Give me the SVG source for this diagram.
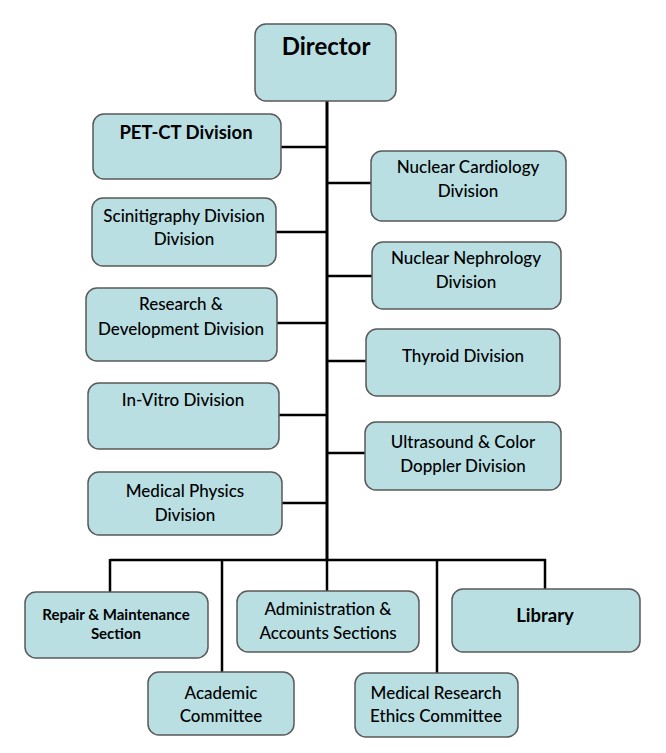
<svg xmlns="http://www.w3.org/2000/svg" width="666" height="753" viewBox="0 0 666 753">
<style>
.box{fill:#b9dfe3;stroke:#5a5a5a;stroke-width:1.5}
.t{font-family:Lato,"Open Sans","Liberation Sans",sans-serif;font-size:17px;font-weight:500;fill:#000;text-anchor:middle}
.b{font-weight:bold}
.ln{stroke:#000;stroke-width:2.5;fill:none}
</style>
<rect width="666" height="753" fill="#fff"/>
<g id="connectors">
<path class="ln" d="M327 101V560" style="stroke-width:3"/>
<path class="ln" d="M281 147H327M276 232H327M277 323H327M279 415H327M282 503H327"/>
<path class="ln" d="M327 183H371M327 276H372M327 361H366M327 453H365"/>
<path class="ln" d="M110 560H546M110 559V592M222 560V672M327 560V591M437 560V673M545 559V589"/>
</g>
<g id="director"><rect class="box" x="255" y="24" width="141" height="77" rx="11"/><text class="t b" x="326" y="55" style="font-size:24px">Director</text></g>
<g id="petct"><rect class="box" x="93" y="114" width="188" height="65" rx="11"/><text class="t b" x="186" y="139" style="font-size:18.5px">PET-CT Division</text></g>
<g id="scin"><rect class="box" x="92" y="198" width="184" height="68" rx="11"/><text class="t" x="184" y="222">Scinitigraphy Division</text><text class="t" x="184" y="245">Division</text></g>
<g id="research"><rect class="box" x="86" y="288" width="191" height="73" rx="11"/><text class="t" x="181" y="310">Research &amp;</text><text class="t" x="181" y="335">Development Division</text></g>
<g id="invitro"><rect class="box" x="88" y="383" width="191" height="66" rx="11"/><text class="t" x="183" y="406">In-Vitro Division</text></g>
<g id="medphys"><rect class="box" x="88" y="472" width="194" height="63" rx="11"/><text class="t" x="185" y="497">Medical Physics</text><text class="t" x="185" y="521">Division</text></g>
<g id="cardio"><rect class="box" x="371" y="151" width="195" height="70" rx="11"/><text class="t" x="468" y="173">Nuclear Cardiology</text><text class="t" x="468" y="197">Division</text></g>
<g id="nephro"><rect class="box" x="372" y="242" width="189" height="67" rx="11"/><text class="t" x="466" y="264">Nuclear Nephrology</text><text class="t" x="466" y="288">Division</text></g>
<g id="thyroid"><rect class="box" x="366" y="329" width="194" height="67" rx="11"/><text class="t" x="463" y="362">Thyroid Division</text></g>
<g id="ultra"><rect class="box" x="365" y="422" width="196" height="68" rx="11"/><text class="t" x="463" y="448">Ultrasound &amp; Color</text><text class="t" x="463" y="472">Doppler Division</text></g>
<g id="repair"><rect class="box" x="25" y="592" width="183" height="66" rx="11"/><text class="t b" x="116" y="620" style="font-size:15px">Repair &amp; Maintenance</text><text class="t b" x="116" y="639" style="font-size:15px">Section</text></g>
<g id="admin"><rect class="box" x="237" y="591" width="182" height="61" rx="11"/><text class="t" x="328" y="615">Administration &amp;</text><text class="t" x="328" y="639">Accounts Sections</text></g>
<g id="library"><rect class="box" x="452" y="589" width="188" height="63" rx="11"/><text class="t b" x="545" y="622" style="font-size:18.5px">Library</text></g>
<g id="academic"><rect class="box" x="148" y="672" width="146" height="63" rx="11"/><text class="t" x="221" y="699">Academic</text><text class="t" x="221" y="722">Committee</text></g>
<g id="ethics"><rect class="box" x="355" y="673" width="163" height="64" rx="11"/><text class="t" x="436" y="699">Medical Research</text><text class="t" x="436" y="722">Ethics Committee</text></g>
</svg>
